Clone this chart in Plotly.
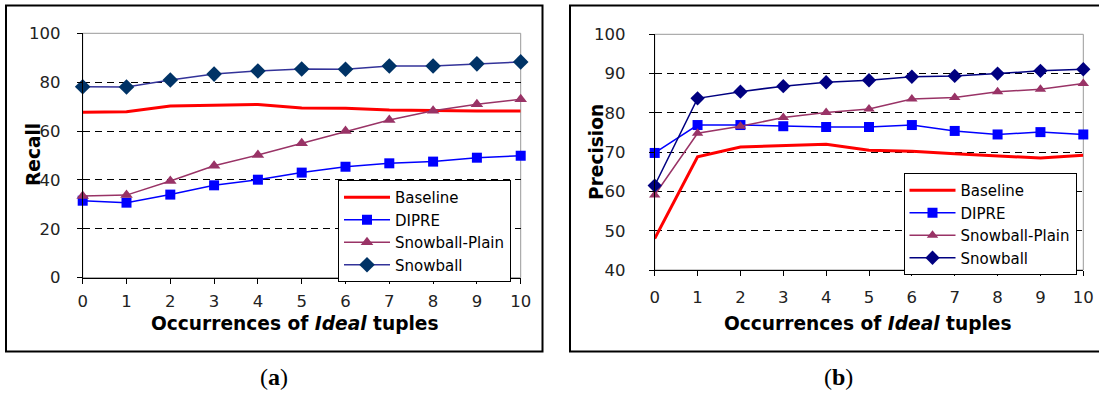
import plotly.graph_objects as go

# ---------------- data ----------------
occurrences = [0, 1, 2, 3, 4, 5, 6, 7, 8, 9, 10]
series_names = ["Baseline", "DIPRE", "Snowball-Plain", "Snowball"]

recall_baseline = [67.7, 67.9, 70.3, 70.7, 70.9, 69.4, 69.3, 68.6, 68.3, 68.2, 68.2]
recall_dipre = [31.5, 30.7, 34.0, 37.8, 40.1, 43.0, 45.4, 46.8, 47.5, 49.1, 49.9]
recall_plain = [33.4, 33.8, 39.6, 45.8, 50.2, 55.0, 60.0, 64.5, 68.3, 71.0, 73.0]
recall_snowball = [78.1, 78.0, 80.9, 83.3, 84.6, 85.4, 85.3, 86.6, 86.6, 87.5, 88.3]

precision_baseline = [48.0, 68.8, 71.3, 71.7, 72.0, 70.5, 70.2, 69.6, 69.0, 68.5, 69.2]
precision_dipre = [69.8, 76.9, 76.9, 76.6, 76.4, 76.4, 76.9, 75.4, 74.5, 75.1, 74.5]
precision_plain = [59.1, 74.8, 76.6, 78.8, 80.1, 81.0, 83.5, 83.9, 85.4, 86.0, 87.5]
precision_snowball = [61.5, 83.7, 85.4, 86.8, 87.8, 88.3, 89.2, 89.4, 90.0, 90.7, 91.1]

recall_ticks = [0, 20, 40, 60, 80, 100]
recall_grid = [20, 40, 60, 80]
precision_ticks = [40, 50, 60, 70, 80, 90, 100]
precision_grid = [50, 60, 70, 80, 90]
x_ticks = occurrences

W, H = 1099, 393

def px(x):
    return x / W

def py(y):
    return 1 - y / H

fig = go.Figure()

styles_left = [
    dict(color="#FF0000", width=3, symbol=None, msize=0, mcolor=None),
    dict(color="#0000FF", width=1.5, symbol="square", msize=10, mcolor="#0000FF"),
    dict(color="#993366", width=1.5, symbol="triangle-up", msize=11, mcolor="#993366"),
    dict(color="#333399", width=1.5, symbol="diamond", msize=12, mcolor="#003366"),
]
styles_right = [
    dict(color="#FF0000", width=3, symbol=None, msize=0, mcolor=None),
    dict(color="#0000FF", width=1.5, symbol="square", msize=10, mcolor="#0000FF"),
    dict(color="#993366", width=1.5, symbol="triangle-up", msize=10, mcolor="#993366"),
    dict(color="#000080", width=1.5, symbol="diamond", msize=11, mcolor="#000080"),
]

left_data = [recall_baseline, recall_dipre, recall_plain, recall_snowball]
right_data = [precision_baseline, precision_dipre, precision_plain, precision_snowball]

def add_series(data, styles, xa, ya, legend):
    for name, ys, st in zip(series_names, data, styles):
        if st["symbol"] is None:
            fig.add_trace(go.Scatter(
                x=occurrences, y=ys, name=name, mode="lines",
                line=dict(color=st["color"], width=st["width"]),
                xaxis=xa, yaxis=ya, legend=legend, cliponaxis=False))
        else:
            fig.add_trace(go.Scatter(
                x=occurrences, y=ys, name=name, mode="lines+markers",
                line=dict(color=st["color"], width=st["width"]),
                marker=dict(symbol=st["symbol"], size=st["msize"], color=st["mcolor"],
                            line=dict(width=0)),
                xaxis=xa, yaxis=ya, legend=legend, cliponaxis=False))

add_series(left_data, styles_left, "x", "y", "legend")
add_series(right_data, styles_right, "x2", "y2", "legend2")

tick_font = dict(family="DejaVu Sans", size=16.5, color="#222222")

def xaxis_cfg(domain, anchor, standoff):
    return dict(domain=domain, anchor=anchor, range=[0, 10], tickvals=x_ticks,
                showgrid=False, zeroline=False, showline=True, linecolor="black",
                linewidth=1, ticks="outside", ticklen=5, tickcolor="black",
                automargin=False,
                tickfont=tick_font, ticklabelstandoff=standoff, fixedrange=True)

def yaxis_cfg(domain, anchor, rng, ticks, grid, standoff):
    return dict(domain=domain, anchor=anchor, range=rng, tickvals=ticks,
                showgrid=False, zeroline=False, showline=True, linecolor="black",
                linewidth=1, ticks="outside", ticklen=5, tickcolor="black",
                automargin=False,
                minor=dict(tickvals=grid, showgrid=True, gridcolor="black",
                           gridwidth=1, griddash="7px,5px", ticks=""),
                tickfont=tick_font, ticklabelstandoff=standoff, fixedrange=True)

L = dict(x0=82.7, x1=520.7, y0=33.3, y1=277.7)
R = dict(x0=654.7, x1=1083.3, y0=34.3, y1=270.0)

legend_font = dict(family="DejaVu Sans", size=15, color="black")

fig.update_layout(
    template="none",
    width=W, height=H,
    margin=dict(l=0, r=0, t=0, b=0, pad=0, autoexpand=False),
    paper_bgcolor="white", plot_bgcolor="white",
    xaxis=xaxis_cfg([px(L["x0"]), px(L["x1"])], "y", 3),
    yaxis=yaxis_cfg([py(L["y1"]), py(L["y0"])], "x", [0, 100], recall_ticks, recall_grid, 13),
    xaxis2=xaxis_cfg([px(R["x0"]), px(R["x1"])], "y2", 7),
    yaxis2=yaxis_cfg([py(R["y1"]), py(R["y0"])], "x2", [40, 100], precision_ticks,
                     precision_grid, 20),
    legend=dict(x=px(338), y=py(180), xanchor="left", yanchor="top",
                bgcolor="white", bordercolor="black", borderwidth=1,
                font=legend_font, itemwidth=46, tracegroupgap=0),
    legend2=dict(x=px(903.5), y=py(173), xanchor="left", yanchor="top",
                 bgcolor="white", bordercolor="black", borderwidth=1,
                 font=legend_font, itemwidth=46, tracegroupgap=0),
    showlegend=True,
)

shapes = []
# gray plot-area border
for xa, ya in (("x", "y"), ("x2", "y2")):
    shapes.append(dict(type="rect", xref=xa + " domain", yref=ya + " domain",
                       x0=0, x1=1, y0=0, y1=1, line=dict(color="#999999", width=1),
                       layer="below"))
# outer frames
shapes.append(dict(type="rect", xref="paper", yref="paper",
                   x0=px(6), x1=px(542.5), y0=py(351.5), y1=py(5.5),
                   line=dict(color="black", width=2), layer="below"))
shapes.append(dict(type="rect", xref="paper", yref="paper",
                   x0=px(570), x1=px(1102), y0=py(351.5), y1=py(5.5),
                   line=dict(color="black", width=2), layer="below"))
fig.update_layout(shapes=shapes)

title_font = dict(family="DejaVu Sans", size=18.6, color="black")
xtitle = "<b>Occurrences of <i>Ideal</i> tuples</b>"
annotations = [
    dict(text=xtitle, x=px(295), y=py(323.5), xref="paper", yref="paper",
         showarrow=False, font=title_font, xanchor="center", yanchor="middle"),
    dict(text=xtitle, x=px(867.5), y=py(323.5), xref="paper", yref="paper",
         showarrow=False, font=title_font, xanchor="center", yanchor="middle"),
    dict(text="<b>Recall</b>", x=px(33), y=py(155), xref="paper", yref="paper",
         showarrow=False, font=title_font, textangle=-90, xanchor="center", yanchor="middle"),
    dict(text="<b>Precision</b>", x=px(596), y=py(152), xref="paper", yref="paper",
         showarrow=False, font=title_font, textangle=-90, xanchor="center", yanchor="middle"),
    dict(text="(<b>a</b>)", x=px(274), y=py(377), xref="paper", yref="paper",
         showarrow=False, font=dict(family="Liberation Serif", size=24, color="black"),
         xanchor="center", yanchor="middle"),
    dict(text="(<b>b</b>)", x=px(838), y=py(377), xref="paper", yref="paper",
         showarrow=False, font=dict(family="Liberation Serif", size=24, color="black"),
         xanchor="center", yanchor="middle"),
]
fig.update_layout(annotations=annotations)

fig.write_html("out.html", config={"displayModeBar": False},
               post_script="document.body.style.margin='0';document.body.style.overflow='hidden';")
